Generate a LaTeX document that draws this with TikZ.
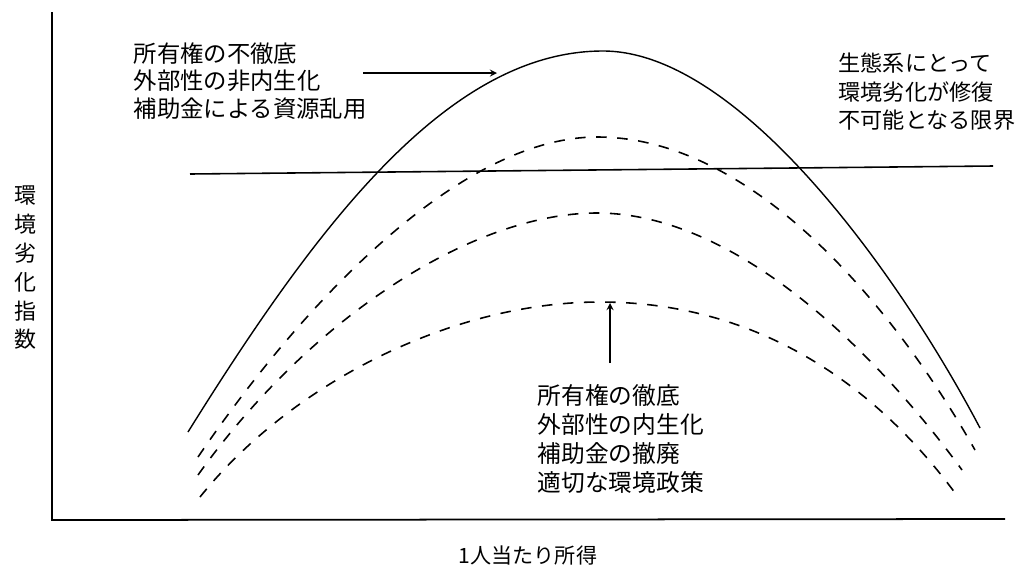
\documentclass[tikz,border=0pt]{standalone}
\usepackage{fontspec}
\newfontfamily\jpfont{Noto Sans CJK JP}
\tikzset{
every picture/.style={line width=0.8pt, >=stealth},
%%%%%%%%%%  Node styles
jp_text/.style={font=\jpfont\fontsize{13.3}{15.6}\selectfont, align=left,
                inner sep=0pt, anchor=west},
axis_label/.style={font=\jpfont\fontsize{12.5}{16.4}\selectfont,
                   align=center, inner sep=0pt},
%%%% different line styles:
axis/.style={line width=1pt},
limit/.style={line width=0.9pt},
kuznets/.style={line width=0.8pt},
policy/.style={line width=0.9pt, dash pattern=on 6pt off 6pt},
pointer/.style={line width=0.8pt, ->}
}
\begin{document}
\begin{tikzpicture}[x=0.02cm, y=-0.02cm]
\useasboundingbox (0,0) rectangle (1020,569);
%%%%%%% axes
\coordinate (ytop) at (52,12);
\coordinate (origin) at (52,520);
\coordinate (xend) at (1005,519);
\draw[axis] (ytop) -- (origin) -- (xend);
\node[axis_label] (yname) at (25,268) {環\\境\\劣\\化\\指\\数};
\node[axis_label, font=\jpfont\fontsize{12}{14}\selectfont] (xname) at (528,555)
{1人当たり所得};
%%%%%%% limit line
\coordinate (limit_l) at (190,174);
\coordinate (limit_r) at (993,166);
\draw[limit] (limit_l) -- (limit_r);
%%%%%%% curves (peak, then both halves)
\draw[kuznets] (188,432) .. controls (320,220) and (450,51) .. (603,51)
  .. controls (740,51) and (900,276) .. (980,428);
\draw[policy] (198,457) .. controls (318,281) and (470,137) .. (597,137)
  .. controls (750,137) and (890,300) .. (975,450);
\draw[policy] (198,475) .. controls (308,321) and (470,213) .. (597,213)
  .. controls (740,213) and (882,360) .. (962,470);
\draw[policy] (200,497) .. controls (290,385) and (450,302) .. (600,302)
  .. controls (760,302) and (878,387) .. (958,497);
%%%%%%% texts and pointers
\node[jp_text] (weak) at (133,81)
{所有権の不徹底\\外部性の非内生化\\補助金による資源乱用};
\node[jp_text, font=\jpfont\fontsize{12.6}{16.2}\selectfont] (limit_text)
at (838,92) {生態系にとって\\環境劣化が修復\\不可能となる限界};
\node[jp_text, font=\jpfont\fontsize{13.5}{16.4}\selectfont] (strong)
at (537,439) {所有権の徹底\\外部性の内生化\\補助金の撤廃\\適切な環境政策};
\coordinate (weak_from) at (363,73);
\coordinate (weak_tip) at (497,73);
\draw[pointer] (weak_from) -- (weak_tip);
\coordinate (strong_from) at (610,363);
\coordinate (strong_tip) at (610,303);
\draw[pointer] (strong_from) -- (strong_tip);
\end{tikzpicture}
\end{document}
